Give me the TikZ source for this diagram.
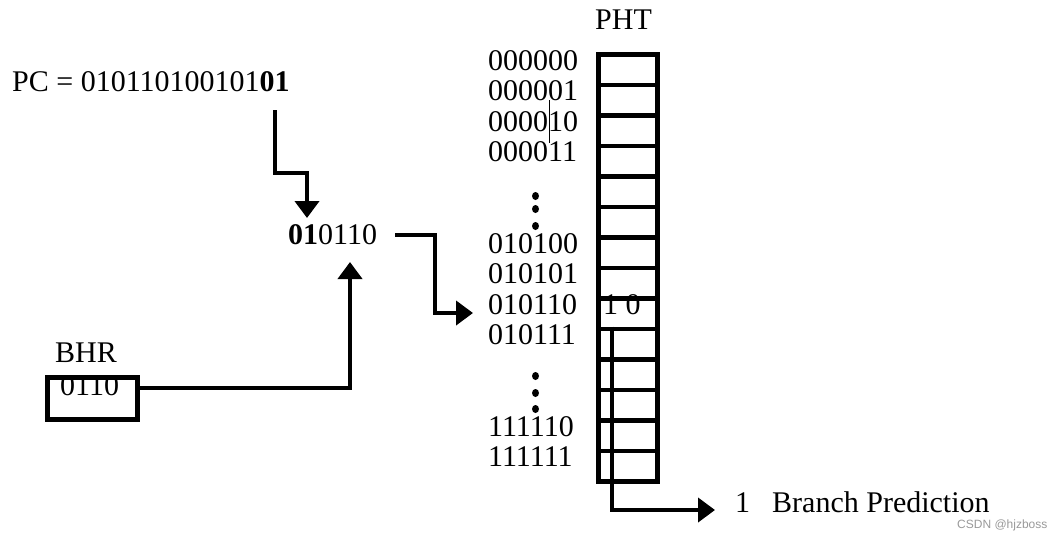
\documentclass[tikz,border=0pt]{standalone}
\usepackage{fontspec}
\setmainfont{Liberation Serif}
\newfontfamily\wmfont{Liberation Sans}
\usetikzlibrary{arrows.meta}
\begin{document}
\begin{tikzpicture}[x=1pt,y=-1pt,
  txt/.style={anchor=base west,inner sep=0pt,font=\fontsize{30}{36}\selectfont},
  conn/.style={line width=4pt,-{Triangle[width=24pt,length=17pt]}},
  cell/.style={draw,line width=4.5pt,minimum width=59pt,minimum height=30.5pt,inner sep=0pt,anchor=north west},
  boxstyle/.style={draw,line width=4.5pt,minimum width=90pt,minimum height=42pt,inner sep=0pt,anchor=north west},
  dotmark/.style={fill=black}]
\useasboundingbox (0,0) rectangle (1062,536);
% PC
\node[txt] (pc) at (12,91) {PC = 010110100101\textbf{01}};
% index
\node[txt] (idx) at (288,244) {\textbf{01}0110};
% BHR
\node[txt] (bhrlabel) at (55,362) {BHR};
\node[boxstyle] (bhr) at (45,375) {};
\node[txt] (bhrval) at (60,395) {0110};
% PHT
\node[txt] (phtlabel) at (595,29) {PHT};
\foreach \i in {0,...,13} {
  \node[cell] (r\i) at (596,{52+30.5*\i}) {};
}
\foreach \i/\t in {0/000000,1/000001,2/000010,3/000011,6/010100,7/010101,8/010110,9/010111,12/111110,13/111111} {
  \node[txt] (l\i) at (488,{52+30.5*\i+18}) {\t};
}
\draw[line width=0.8pt] (549,100) -- (549,143);
% vertical dots
\foreach \y in {196,209,226} \fill[dotmark] (535.5,\y) ellipse (3.5pt and 4pt);
\foreach \y in {376,393,409} \fill[dotmark] (535.5,\y) ellipse (3.5pt and 4pt);
% counter value
\node[txt] (cnt) at (603,314) {1 0};
% output
\node[txt] (out) at (735,512) {1\hspace{22pt}Branch Prediction};
\node[anchor=base west,inner sep=0pt,font=\wmfont\fontsize{12}{14}\selectfont,text=gray!80] (wm) at (957,528) {CSDN @hjzboss};
% connectors
\coordinate (pcs) at (275,110);
\coordinate (idxn) at (307,218);
\draw[conn] (pcs) -- (275,173) -| (idxn);
\coordinate (idxe) at (395,235);
\coordinate (phtin) at (473,313);
\draw[conn] (idxe) -- (435,235) |- (phtin);
\coordinate (idxs) at (350,262);
\draw[conn] (bhr.east |- 0,388) -| (idxs);
\coordinate (rin) at (612,326.5);
\coordinate (outw) at (715,510);
\draw[conn] (rin) |- (outw);
\end{tikzpicture}
\end{document}
